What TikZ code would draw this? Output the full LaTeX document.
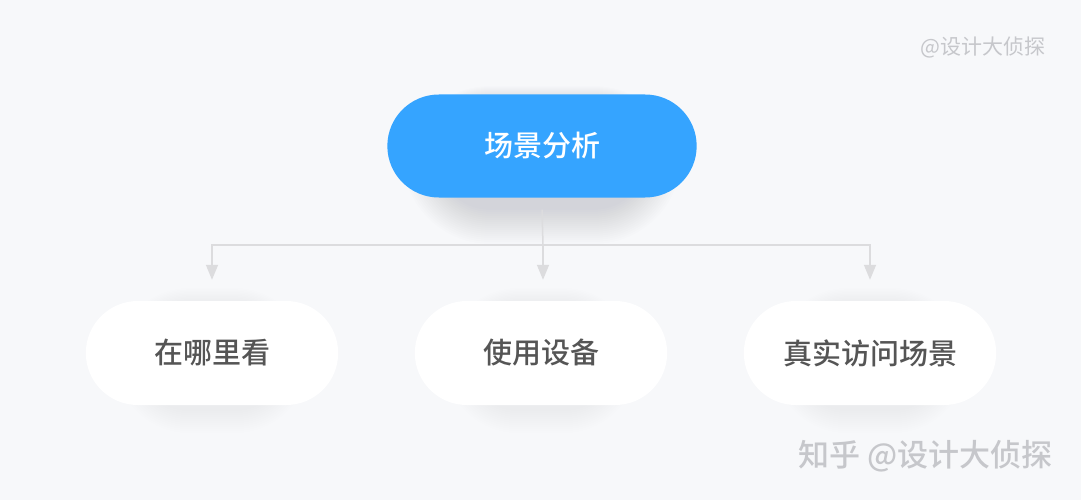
\documentclass[tikz,border=0pt]{standalone}
\usepackage{fontspec}
\newfontfamily\cjk{Noto Sans CJK SC}
\newfontfamily\cjkmed{Noto Sans CJK SC Medium}
\usepackage{tikz}
\usetikzlibrary{shapes.misc,arrows.meta,calc}
\pgfdeclarelayer{bg}
\pgfsetlayers{bg,main}
\definecolor{bgcol}{HTML}{F7F8FA}
\definecolor{sceneblue}{HTML}{35A4FF}
\definecolor{linkgray}{HTML}{DCDCDE}
\definecolor{textgray}{HTML}{555555}
\definecolor{markgray}{HTML}{C6C7CB}
\definecolor{shadowcol}{HTML}{5A6A8A}
\begin{document}
\begin{tikzpicture}[x=1pt,y=-1pt,
		topnode/.style={rounded rectangle, fill=sceneblue, text=white,
			minimum width=316pt, minimum height=103pt,
			font=\cjkmed\fontsize{29}{34}\selectfont},
		subnode/.style={rounded rectangle, fill=white, text=textgray,
			minimum width=259pt, minimum height=104pt,
			font=\cjkmed\fontsize{29}{34}\selectfont},
		link/.style={draw=linkgray, line width=1.5pt},
		arrowlink/.style={link, -{Triangle[width=12pt,length=15pt]}, shorten >=21pt},
		watermark/.style={text=markgray, anchor=east}]
		
		\useasboundingbox (0,0) rectangle (1081,500);
		
		\node[topnode] (scene) at (542,146) {场景分析};
		\node[subnode] (where) at (212,353) {在哪里看};
		\node[subnode] (device) at (541,353) {使用设备};
		\node[subnode] (visit) at (870,353) {真实访问场景};
		
		% soft shadows behind the boxes
		\begin{pgfonlayer}{bg}
			\fill[bgcol] (0,0) rectangle (1081,500);
			\foreach \r in {2,4,...,36}
				\fill[shadowcol, opacity=0.011, rounded corners=51pt+\r pt]
					($(scene.north west)+(-\r,-\r*0.5+10)$) rectangle ($(scene.south east)+(\r,\r+10)$);
			\foreach \n in {where,device,visit}
				\foreach \r in {2,4,...,24}
					\fill[shadowcol, opacity=0.005, rounded corners=52pt+\r pt]
						($(\n.north west)+(-\r,-\r*0.7+4)$) rectangle ($(\n.south east)+(\r,\r+4)$);
		\end{pgfonlayer}
		
		\coordinate (split) at (543,245);
		\draw[link] (scene.south) ++(0,12) -- (split);
		\draw[arrowlink] (split) -| (where.north);
		\draw[arrowlink] (split) -- (split |- device.north);
		\draw[arrowlink] (split) -| (visit.north);
		
		% watermarks
		\node[watermark, font=\cjk\fontsize{21}{25}\selectfont] (tag) at (1049,47) {@设计大侦探};
		\node[watermark, font=\cjkmed\fontsize{31}{36}\selectfont] (zhihu) at (1056,456) {知乎 @设计大侦探};
		
\end{tikzpicture}
\end{document}
